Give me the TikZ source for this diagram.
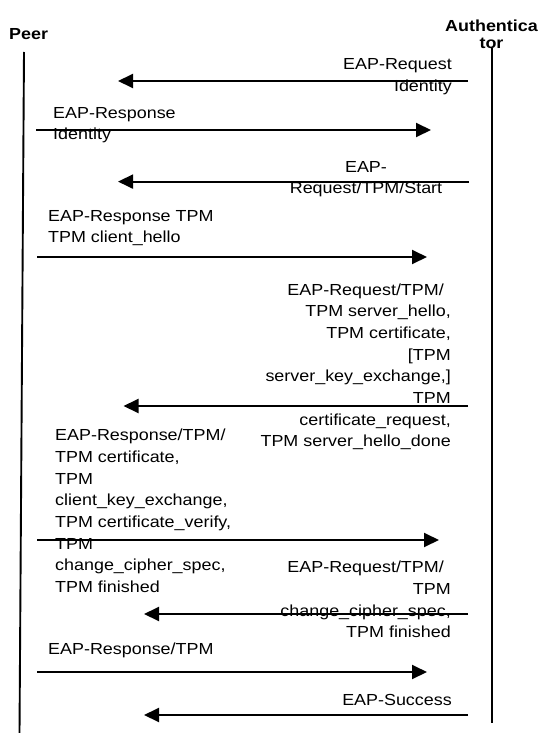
\documentclass[tikz,border=0pt]{standalone}
\usepackage{fontspec}
\setmainfont{Liberation Sans}[FakeStretch=1.12]
\usetikzlibrary{arrows.meta}
\tikzset{
  msg/.style={line width=1.9pt, -{Triangle[length=15pt,width=14pt]}},
  life/.style={line width=1.9pt},
  lbl/.style={inner sep=0pt, font=\fontsize{16}{21.7}\selectfont},
  lblR/.style={lbl, align=right, anchor=base east},
  lblL/.style={lbl, align=left, anchor=base west},
  lblC/.style={lbl, align=center, anchor=base},
  actor/.style={inner sep=0pt, font=\fontsize{16}{17}\selectfont\bfseries}
}
\begin{document}
\begin{tikzpicture}[x=1pt, y=-1pt]
\useasboundingbox (0,0) rectangle (538,733);

% participants (multi-line nodes are placed by the baseline of their last line)
\node[actor, anchor=base west] (peer) at (9,40) {Peer};
\node[actor, align=center, anchor=base] (auth) at (491.5,49) {Authentica\\tor};

% lifelines
\coordinate (peerTop) at (24,52);
\coordinate (peerBot) at (19.5,733);
\coordinate (authTop) at (492,48);
\coordinate (authBot) at (492,723);
\draw[life] (peerTop) -- (peerBot);
\draw[life] (authTop) -- (authBot);

% message end points
\coordinate (m1s) at (468,81);    \coordinate (m1e) at (118,81);
\coordinate (m2s) at (36,130);    \coordinate (m2e) at (431,130);
\coordinate (m3s) at (469,181.6); \coordinate (m3e) at (118,181.6);
\coordinate (m4s) at (37,257);    \coordinate (m4e) at (427,257);
\coordinate (m5s) at (468,406);   \coordinate (m5e) at (123.5,406);
\coordinate (m6s) at (37,540);    \coordinate (m6e) at (439,540);
\coordinate (m7s) at (468,614);   \coordinate (m7e) at (144,614);
\coordinate (m8s) at (37,672);    \coordinate (m8e) at (427,672);
\coordinate (m9s) at (468,715);   \coordinate (m9e) at (144,715);

% message labels
\node[lblR] (t1) at (452,91.4) {EAP-Request\\Identity};
\node[lblL] (t2) at (53,139.7) {EAP-Response\\Identity};
\node[lblC] (t3) at (366,193.7) {EAP-\\Request/TPM/Start};
\node[lblL] (t4) at (48,242.7) {EAP-Response TPM\\TPM client\_hello};
\node[lblR] (t5) at (451,446.9) {EAP-Request/TPM/\hspace*{7pt}\\TPM server\_hello,\\TPM certificate,\\{}[TPM\\server\_key\_exchange,]\\TPM\\certificate\_request,\\TPM server\_hello\_done};
\node[lblL] (t6) at (55,592.5) {EAP-Response/TPM/\\TPM certificate,\\TPM\\client\_key\_exchange,\\TPM certificate\_verify,\\TPM\\change\_cipher\_spec,\\TPM finished};
\node[lblR] (t7) at (451,637.8) {EAP-Request/TPM/\hspace*{7pt}\\TPM\\change\_cipher\_spec,\\TPM finished};
\node[lblL] (t8) at (48,654) {EAP-Response/TPM};
\node[lblR] (t9) at (452,705) {EAP-Success};

% messages
\draw[msg] (m1s) -- (m1e);
\draw[msg] (m2s) -- (m2e);
\draw[msg] (m3s) -- (m3e);
\draw[msg] (m4s) -- (m4e);
\draw[msg] (m5s) -- (m5e);
\draw[msg] (m6s) -- (m6e);
\draw[msg] (m7s) -- (m7e);
\draw[msg] (m8s) -- (m8e);
\draw[msg] (m9s) -- (m9e);
\end{tikzpicture}
\end{document}
